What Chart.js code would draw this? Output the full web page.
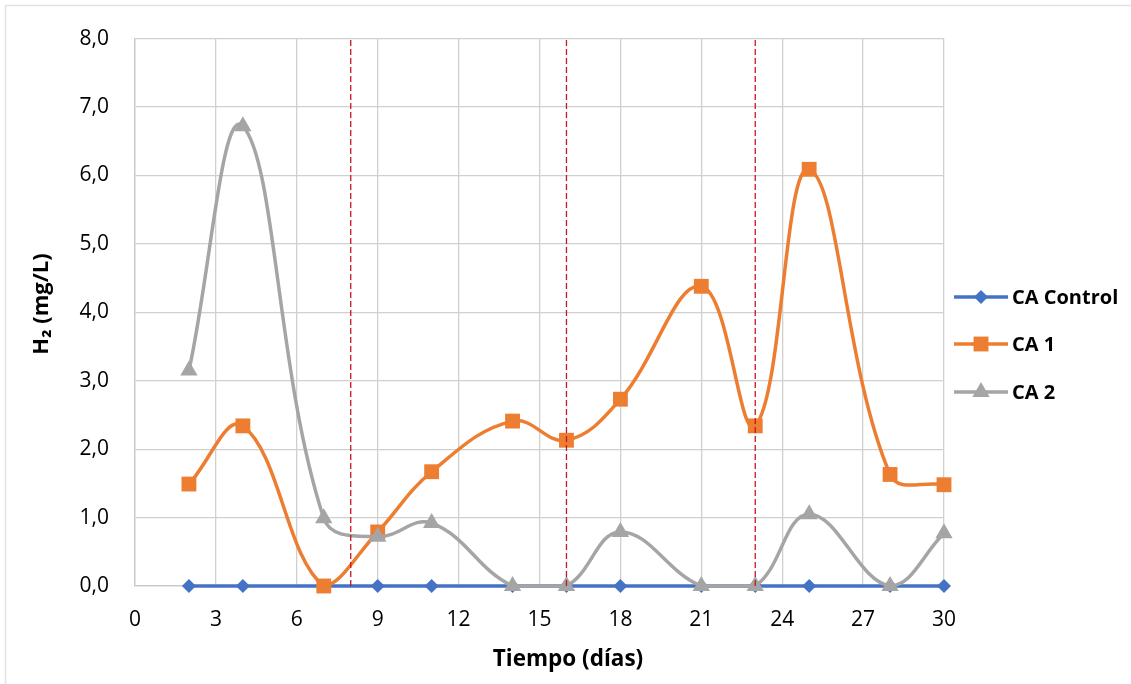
<!DOCTYPE html>
<html>
<head>
<meta charset="utf-8">
<script src="https://cdn.jsdelivr.net/npm/chart.js@4.4.1/dist/chart.umd.min.js"></script>
<style>
html,body{margin:0;padding:0;background:#fff;}
#wrap{width:1131px;height:684px;position:relative;}
</style>
</head>
<body>
<div id="wrap"><canvas id="c" width="1131" height="684"></canvas></div>
<script>
const days = [2, 4, 7, 9, 11, 14, 16, 18, 21, 23, 25, 28, 30];
const caControl = [0, 0, 0, 0, 0, 0, 0, 0, 0, 0, 0, 0, 0];
const ca1 = [1.49, 2.34, 0, 0.79, 1.67, 2.41, 2.13, 2.73, 4.38, 2.34, 6.09, 1.63, 1.48];
const ca2 = [3.15, 6.72, 0.99, 0.72, 0.92, 0, 0, 0.79, 0, 0, 1.05, 0, 0.77];
const phaseLines = [8, 16, 23];
const seriesNames = ['CA Control', 'CA 1', 'CA 2'];
const xTitle = 'Tiempo (días)';
const yTitle = 'H\u2082 (mg/L)';

const FONT = "'Open Sans', 'Noto Sans', sans-serif";
const toPts = (ys) => days.map((d, i) => ({x: d, y: ys[i]}));

const seriesStyles = [
  {color: '#4472C4', pointStyle: 'rectRot', radius: 7, order: 3},
  {color: '#ED7D31', pointStyle: 'rect', radius: 10.5, order: 2},
  {color: '#A5A5A5', pointStyle: 'triangle', radius: 10, order: 1}
];
const seriesData = [caControl, ca1, ca2];

const datasets = seriesData.map((ys, i) => ({
  label: seriesNames[i],
  data: toPts(ys),
  borderColor: seriesStyles[i].color,
  backgroundColor: seriesStyles[i].color,
  pointStyle: seriesStyles[i].pointStyle,
  pointRadius: seriesStyles[i].radius,
  pointBorderWidth: 0,
  pointBorderColor: seriesStyles[i].color,
  borderWidth: 3.5,
  tension: i === 0 ? 0 : 0.4,
  clip: false,
  order: seriesStyles[i].order,
  isSeries: true
}));

phaseLines.forEach(x => {
  datasets.push({
    label: 'phase',
    data: [{x: x, y: 0}, {x: x, y: 8}],
    borderColor: '#C8141E',
    borderWidth: 1.3,
    borderDash: [6, 3],
    pointRadius: 0,
    tension: 0,
    order: 0,
    isSeries: false
  });
});

function drawMarker(ctx, style, x, y, r, color) {
  ctx.save();
  ctx.fillStyle = color;
  ctx.beginPath();
  if (style === 'rect') {
    const s = Math.SQRT1_2 * r;
    ctx.rect(x - s, y - s, 2 * s, 2 * s);
  } else if (style === 'rectRot') {
    ctx.moveTo(x, y - r); ctx.lineTo(x + r, y); ctx.lineTo(x, y + r); ctx.lineTo(x - r, y);
    ctx.closePath();
  } else if (style === 'triangle') {
    for (let k = 0; k < 3; k++) {
      const a = -Math.PI / 2 + k * 2 * Math.PI / 3;
      const px = x + Math.cos(a) * r, py = y + Math.sin(a) * r;
      if (k === 0) ctx.moveTo(px, py); else ctx.lineTo(px, py);
    }
    ctx.closePath();
  }
  ctx.fill();
  ctx.restore();
}

const legendPlugin = {
  id: 'sideLegend',
  afterDraw(chart) {
    const ctx = chart.ctx;
    const ys = [297, 344, 392];
    let k = 0;
    chart.data.datasets.forEach((ds) => {
      if (!ds.isSeries) return;
      const y = ys[k++];
      ctx.save();
      ctx.strokeStyle = ds.borderColor;
      ctx.lineWidth = 3.5;
      ctx.beginPath();
      ctx.moveTo(954, y); ctx.lineTo(1008, y);
      ctx.stroke();
      drawMarker(ctx, ds.pointStyle, 981, y, ds.pointRadius, ds.backgroundColor);
      ctx.fillStyle = '#000';
      ctx.font = "bold 20px " + FONT;
      ctx.textBaseline = 'middle';
      ctx.textAlign = 'left';
      ctx.fillText(ds.label, 1012, y + 1);
      ctx.restore();
    });
    // axis titles
    ctx.save();
    ctx.fillStyle = '#000';
    ctx.font = "bold 22.5px " + FONT;
    ctx.textAlign = 'center';
    ctx.textBaseline = 'middle';
    ctx.fillText(xTitle, 568, 660);
    ctx.translate(42, 304);
    ctx.rotate(-Math.PI / 2);
    ctx.font = "bold 22px " + FONT;
    ctx.fillText(yTitle, 0, 0);
    ctx.restore();
  }
};

const framePlugin = {
  id: 'frame',
  beforeDraw(chart) {
    const ctx = chart.ctx;
    ctx.save();
    ctx.fillStyle = '#fff';
    ctx.fillRect(0, 0, chart.width, chart.height);
    ctx.strokeStyle = '#e2e2e2';
    ctx.lineWidth = 1.5;
    ctx.beginPath();
    ctx.moveTo(5.5, chart.height);
    ctx.lineTo(5.5, 5.5);
    ctx.lineTo(chart.width, 5.5);
    ctx.stroke();
    ctx.restore();
  }
};

new Chart(document.getElementById('c'), {
  type: 'line',
  data: {datasets: datasets},
  options: {
    responsive: false,
    animation: false,
    layout: {padding: {top: 38, right: 187, bottom: 0, left: 0}},
    plugins: {legend: {display: false}, tooltip: {enabled: false}},
    scales: {
      x: {
        type: 'linear',
        min: 0, max: 30,
        afterFit(scale) { scale.height = 98; },
        ticks: {stepSize: 3, color: '#000', font: {family: FONT, size: 21}, padding: 21, maxRotation: 0},
        grid: {color: '#d0d0d0', lineWidth: 1.3, drawTicks: false},
        border: {color: '#c8c8c8', width: 1.3},
        title: {display: false, text: xTitle}
      },
      y: {
        min: 0, max: 8,
        afterFit(scale) { scale.width = 135; },
        ticks: {stepSize: 1, color: '#000', font: {family: FONT, size: 21}, padding: 26,
          callback: (v) => v.toFixed(1).replace('.', ',')},
        grid: {color: '#d0d0d0', lineWidth: 1.3, drawTicks: false},
        border: {color: '#c8c8c8', width: 1.3},
        title: {display: false, text: yTitle}
      }
    }
  },
  plugins: [framePlugin, legendPlugin]
});
</script>
</body>
</html>
